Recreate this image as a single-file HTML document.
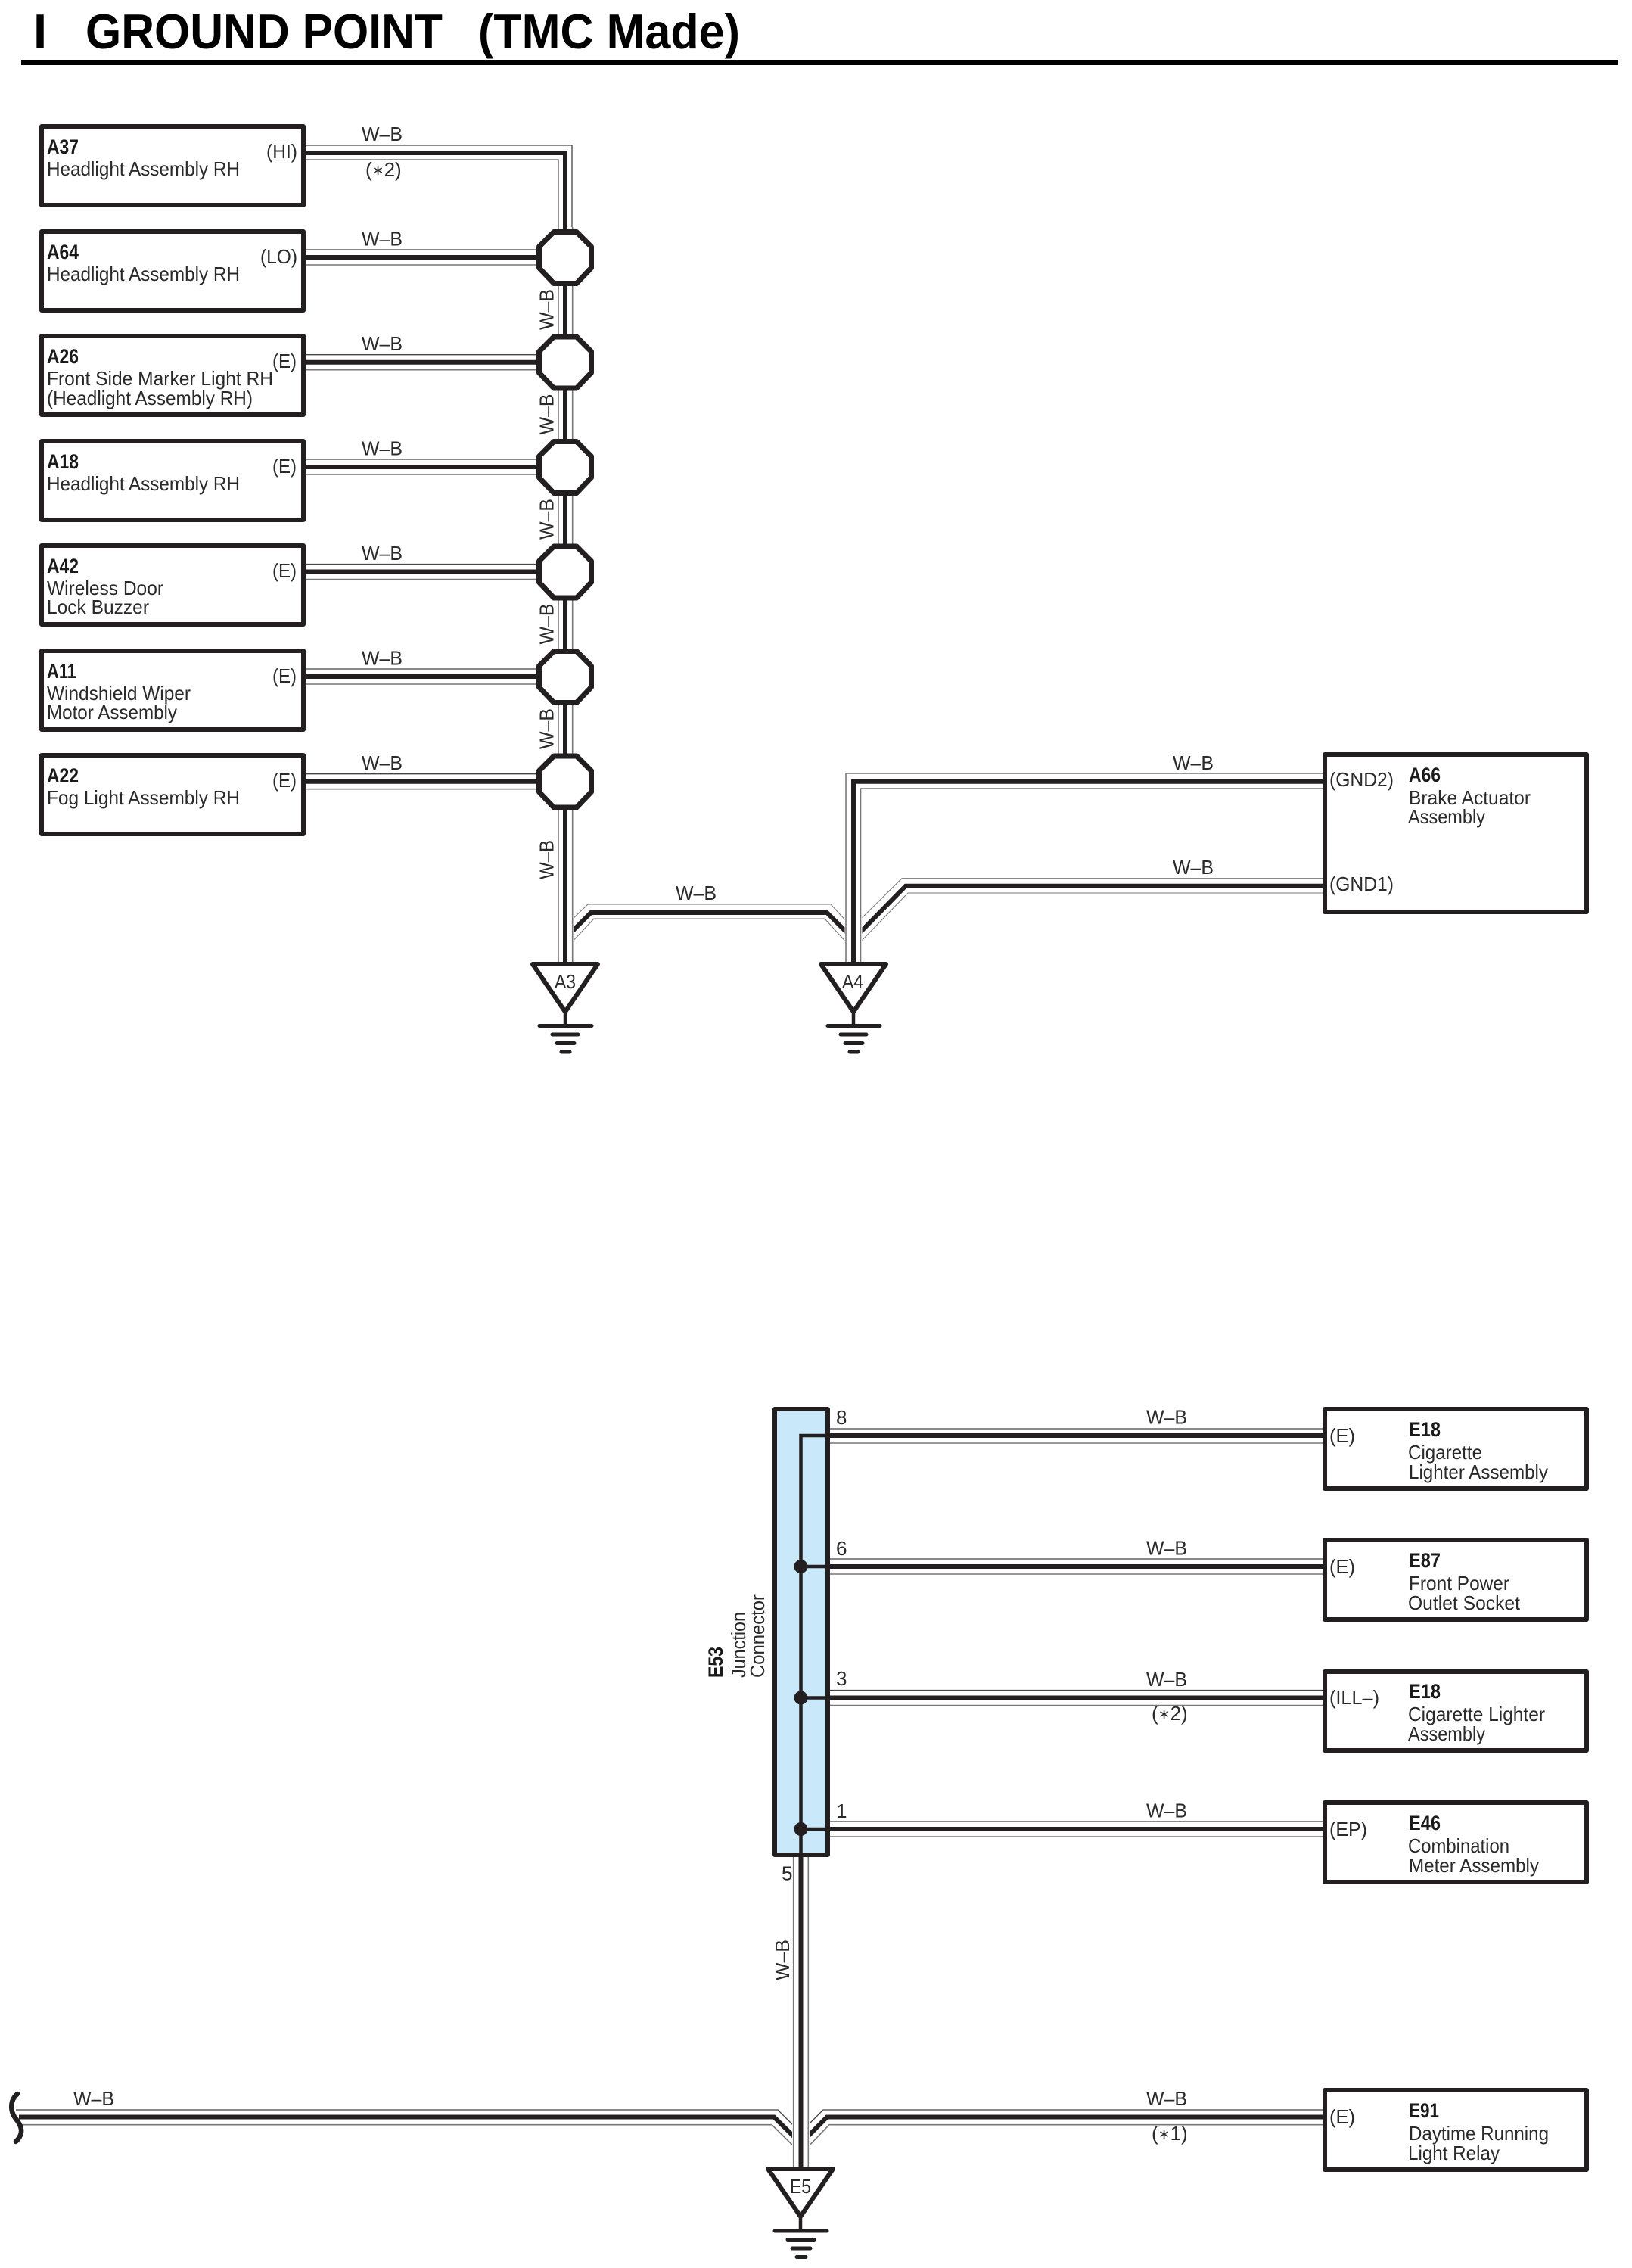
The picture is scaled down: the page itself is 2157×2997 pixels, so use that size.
<!DOCTYPE html>
<html lang="en"><head><meta charset="utf-8"><title>Ground Point</title>
<style>
html,body{margin:0;padding:0;background:#fff}
svg{display:block}
text{font-family:"Liberation Sans",Arial,sans-serif;font-size:26px;fill:#2a2a2a}
.b{font-weight:bold;fill:#1a1a1a;font-size:27px}
.t{font-weight:bold;font-size:65px;fill:#000}
.box{fill:#fff;stroke:#231f20;stroke-width:6;stroke-linejoin:round}
.k{fill:none;stroke:#231f20;stroke-width:6}
.g1{fill:none;stroke:#444;stroke-width:1.3}
.g2{fill:none;stroke:#777;stroke-width:1.6}
.gd{fill:none;stroke:#777;stroke-width:1.1}
.oc{fill:#fff;stroke:#231f20;stroke-width:7;stroke-linejoin:round}
.tri{fill:#fff;stroke:#231f20;stroke-width:6;stroke-linejoin:round}
.gb{stroke:#231f20;stroke-linecap:round;fill:none}
.s{font-size:19px}
</style></head><body>
<svg xmlns="http://www.w3.org/2000/svg" width="2157" height="2997" viewBox="0 0 2157 2997">
<rect width="2157" height="2997" fill="#fff"/>

<!-- Title -->
<text class="t" x="44" y="64">I</text>
<text class="t" x="113" y="64" textLength="472" lengthAdjust="spacingAndGlyphs">GROUND POINT</text>
<text class="t" x="632" y="64" textLength="346" lengthAdjust="spacingAndGlyphs">(TMC Made)</text>
<rect x="28" y="79" width="2111" height="7" fill="#000"/>

<!-- Left horizontal wires -->
<path class="g1" d="M404 192H756V300"/><path class="g2" d="M404 211H738V300"/><path class="k" d="M404 202H747V300"/>
<path class="g1" d="M404 330H720M404 468.7H720M404 607H720M404 745.5H720M404 884H720M404 1022.7H720"/>
<path class="g2" d="M404 350H720M404 488.7H720M404 627H720M404 765.5H720M404 904H720M404 1042.7H720"/>
<path class="k" d="M404 340H720M404 478.7H720M404 617H720M404 755.5H720M404 894H720M404 1032.7H720"/>

<!-- A3–A4 link and GND1 diagonals -->
<path class="gd" d="M752 1219L777 1195H1098L1122 1221"/>
<path class="gd" d="M752 1249L785 1214H1090L1122 1249"/>
<path class="k" d="M752 1235L781 1206H1093L1122 1235"/>
<path class="gd" d="M1134 1218L1192 1160.7H1748"/>
<path class="gd" d="M1134 1248L1200 1180H1748"/>
<path class="k" d="M1132 1237L1197 1170.7H1748"/>
<rect x="735" y="1190" width="23" height="62" fill="#fff"/>
<rect x="1116.5" y="1190" width="23" height="62" fill="#fff"/>

<!-- Vertical bus A3 -->
<path class="g2" d="M738 300V1272"/><path class="g2" d="M756.7 300V1272"/><path class="k" d="M747 300V1272"/>
<!-- A4 verticals / GND2 -->
<path class="g2" d="M1118 1272V1022H1748"/><path class="g2" d="M1137.5 1272V1042H1748"/><path class="k" d="M1128 1272V1032.7H1748"/>

<!-- Octagons -->
<g id="octs">
<polygon class="oc" points="732,306.5 762,306.5 781.5,326 781.5,354 762,374.5 732,374.5 712.5,354 712.5,326"/>
<polygon class="oc" points="732,445 762,445 781.5,464.5 781.5,492.5 762,513 732,513 712.5,492.5 712.5,464.5"/>
<polygon class="oc" points="732,583.5 762,583.5 781.5,603 781.5,631 762,651.5 732,651.5 712.5,631 712.5,603"/>
<polygon class="oc" points="732,722 762,722 781.5,741.5 781.5,769.5 762,790 732,790 712.5,769.5 712.5,741.5"/>
<polygon class="oc" points="732,860.5 762,860.5 781.5,880 781.5,908 762,928.5 732,928.5 712.5,908 712.5,880"/>
<polygon class="oc" points="732,999 762,999 781.5,1018.5 781.5,1046.5 762,1067 732,1067 712.5,1046.5 712.5,1018.5"/>
</g>

<!-- Left boxes -->
<rect class="box" x="55" y="167" width="346" height="104"/>
<rect class="box" x="55" y="306" width="346" height="104"/>
<rect class="box" x="55" y="444" width="346" height="104"/>
<rect class="box" x="55" y="583" width="346" height="104"/>
<rect class="box" x="55" y="721" width="346" height="104"/>
<rect class="box" x="55" y="860" width="346" height="104"/>
<rect class="box" x="55" y="998" width="346" height="104"/>

<text class="b" x="62" y="203" textLength="42" lengthAdjust="spacingAndGlyphs">A37</text>
<text x="62" y="232" textLength="255" lengthAdjust="spacingAndGlyphs">Headlight Assembly RH</text>
<text x="352" y="209" textLength="41" lengthAdjust="spacingAndGlyphs">(HI)</text>
<text class="b" x="62" y="342" textLength="42" lengthAdjust="spacingAndGlyphs">A64</text>
<text x="62" y="371" textLength="255" lengthAdjust="spacingAndGlyphs">Headlight Assembly RH</text>
<text x="344" y="348" textLength="49" lengthAdjust="spacingAndGlyphs">(LO)</text>
<text class="b" x="62" y="480" textLength="42" lengthAdjust="spacingAndGlyphs">A26</text>
<text x="62" y="509" textLength="299" lengthAdjust="spacingAndGlyphs">Front Side Marker Light RH</text>
<text x="62" y="535" textLength="272" lengthAdjust="spacingAndGlyphs">(Headlight Assembly RH)</text>
<text x="360" y="486" textLength="32" lengthAdjust="spacingAndGlyphs">(E)</text>
<text class="b" x="62" y="619" textLength="42" lengthAdjust="spacingAndGlyphs">A18</text>
<text x="62" y="648" textLength="255" lengthAdjust="spacingAndGlyphs">Headlight Assembly RH</text>
<text x="360" y="625" textLength="32" lengthAdjust="spacingAndGlyphs">(E)</text>
<text class="b" x="62" y="757" textLength="42" lengthAdjust="spacingAndGlyphs">A42</text>
<text x="62" y="786" textLength="154" lengthAdjust="spacingAndGlyphs">Wireless Door</text>
<text x="62" y="811" textLength="135" lengthAdjust="spacingAndGlyphs">Lock Buzzer</text>
<text x="360" y="763" textLength="32" lengthAdjust="spacingAndGlyphs">(E)</text>
<text class="b" x="62" y="896" textLength="39" lengthAdjust="spacingAndGlyphs">A11</text>
<text x="62" y="925" textLength="190" lengthAdjust="spacingAndGlyphs">Windshield Wiper</text>
<text x="62" y="950" textLength="172" lengthAdjust="spacingAndGlyphs">Motor Assembly</text>
<text x="360" y="902" textLength="32" lengthAdjust="spacingAndGlyphs">(E)</text>
<text class="b" x="62" y="1034" textLength="42" lengthAdjust="spacingAndGlyphs">A22</text>
<text x="62" y="1063" textLength="255" lengthAdjust="spacingAndGlyphs">Fog Light Assembly RH</text>
<text x="360" y="1040" textLength="32" lengthAdjust="spacingAndGlyphs">(E)</text>

<!-- W–B labels left -->
<text x="478" y="186" textLength="54" lengthAdjust="spacingAndGlyphs">W–B</text>
<text x="483" y="233">(<tspan class="s" dy="-2">∗</tspan><tspan dy="2">2)</tspan></text>
<text x="478" y="324.5" textLength="54" lengthAdjust="spacingAndGlyphs">W–B</text>
<text x="478" y="463" textLength="54" lengthAdjust="spacingAndGlyphs">W–B</text>
<text x="478" y="601.5" textLength="54" lengthAdjust="spacingAndGlyphs">W–B</text>
<text x="478" y="740" textLength="54" lengthAdjust="spacingAndGlyphs">W–B</text>
<text x="478" y="878.5" textLength="54" lengthAdjust="spacingAndGlyphs">W–B</text>
<text x="478" y="1017" textLength="54" lengthAdjust="spacingAndGlyphs">W–B</text>
<!-- rotated labels -->
<text transform="translate(731.5,436) rotate(-90)" textLength="54" lengthAdjust="spacingAndGlyphs">W–B</text>
<text transform="translate(731.5,574.5) rotate(-90)" textLength="54" lengthAdjust="spacingAndGlyphs">W–B</text>
<text transform="translate(731.5,713) rotate(-90)" textLength="54" lengthAdjust="spacingAndGlyphs">W–B</text>
<text transform="translate(731.5,851.5) rotate(-90)" textLength="54" lengthAdjust="spacingAndGlyphs">W–B</text>
<text transform="translate(731.5,990) rotate(-90)" textLength="54" lengthAdjust="spacingAndGlyphs">W–B</text>
<text transform="translate(731.5,1162) rotate(-90)" textLength="52" lengthAdjust="spacingAndGlyphs">W–B</text>
<text x="893" y="1189" textLength="54" lengthAdjust="spacingAndGlyphs">W–B</text>
<text x="1550" y="1017" textLength="54" lengthAdjust="spacingAndGlyphs">W–B</text>
<text x="1550" y="1155" textLength="54" lengthAdjust="spacingAndGlyphs">W–B</text>

<!-- Grounds A3, A4 -->
<polygon class="tri" points="704,1274 790,1274 747,1337"/>
<path class="k" style="stroke-width:4.5" d="M747 1337V1355"/>
<path class="gb" stroke-width="5" d="M713 1355.5H782M730 1367H764M736 1378.5H759M742 1390H753"/>
<text x="733" y="1306" textLength="28" lengthAdjust="spacingAndGlyphs">A3</text>
<polygon class="tri" points="1085,1274 1171,1274 1128,1337"/>
<path class="k" style="stroke-width:4.5" d="M1128 1337V1355"/>
<path class="gb" stroke-width="5" d="M1094 1355.5H1163M1111 1367H1145M1117 1378.5H1140M1123 1390H1134"/>
<text x="1113" y="1306" textLength="28" lengthAdjust="spacingAndGlyphs">A4</text>

<!-- A66 -->
<rect class="box" x="1751" y="997" width="346" height="208"/>
<text x="1757" y="1039" textLength="85" lengthAdjust="spacingAndGlyphs">(GND2)</text>
<text x="1757" y="1177" textLength="85" lengthAdjust="spacingAndGlyphs">(GND1)</text>
<text class="b" x="1862" y="1033" textLength="42" lengthAdjust="spacingAndGlyphs">A66</text>
<text x="1862" y="1063" textLength="161" lengthAdjust="spacingAndGlyphs">Brake Actuator</text>
<text x="1861" y="1088" textLength="102" lengthAdjust="spacingAndGlyphs">Assembly</text>

<!-- E53 wires to the right -->
<path class="g1" d="M1097 1888H1748M1097 2060H1748M1097 2233.5H1748M1097 2407H1748"/>
<path class="g2" d="M1097 1907H1748M1097 2080H1748M1097 2253.5H1748M1097 2427H1748"/>
<path class="k" d="M1097 1897H1748M1097 2070H1748M1097 2243.5H1748M1097 2417H1748"/>

<!-- E53 -->
<rect x="1024" y="1862" width="70" height="589" fill="#c9e8fa" stroke="#231f20" stroke-width="6" stroke-linejoin="round"/>
<path fill="none" stroke="#231f20" stroke-width="4.5" d="M1097 1897H1058.5V2454M1058.5 2070H1097M1058.5 2243.5H1097M1058.5 2417H1097"/>
<circle cx="1058.5" cy="2070" r="9" fill="#231f20"/>
<circle cx="1058.5" cy="2243.5" r="9" fill="#231f20"/>
<circle cx="1058.5" cy="2417" r="9" fill="#231f20"/>
<path fill="none" stroke="#231f20" stroke-width="6" d="M1094 1897H1097M1094 2070H1097M1094 2243.5H1097M1094 2417H1097"/>
<text x="1105" y="1882">8</text>
<text x="1105" y="2055">6</text>
<text x="1105" y="2227">3</text>
<text x="1105" y="2402">1</text>
<text x="1033" y="2484.5">5</text>
<text class="b" transform="translate(955,2217) rotate(-90)" textLength="41" lengthAdjust="spacingAndGlyphs">E53</text>
<text transform="translate(985,2217) rotate(-90)" textLength="87" lengthAdjust="spacingAndGlyphs">Junction</text>
<text transform="translate(1010,2217) rotate(-90)" textLength="110" lengthAdjust="spacingAndGlyphs">Connector</text>

<!-- W–B right -->
<text x="1515" y="1881.5" textLength="54" lengthAdjust="spacingAndGlyphs">W–B</text>
<text x="1515" y="2054.5" textLength="54" lengthAdjust="spacingAndGlyphs">W–B</text>
<text x="1515" y="2228" textLength="54" lengthAdjust="spacingAndGlyphs">W–B</text>
<text x="1522" y="2273">(<tspan class="s" dy="-2">∗</tspan><tspan dy="2">2)</tspan></text>
<text x="1515" y="2401.5" textLength="54" lengthAdjust="spacingAndGlyphs">W–B</text>
<text x="1515" y="2782" textLength="54" lengthAdjust="spacingAndGlyphs">W–B</text>
<text x="1522" y="2828">(<tspan class="s" dy="-2">∗</tspan><tspan dy="2">1)</tspan></text>
<text x="97" y="2782" textLength="54" lengthAdjust="spacingAndGlyphs">W–B</text>

<!-- Bottom horizontal wires -->
<path class="g1" d="M21 2788H1028L1052 2812M1064 2812L1088 2788H1748"/>
<path class="g2" d="M28 2807.7H1020L1052 2839"/>
<path class="g2" d="M1064 2841L1096 2807.7H1748"/>
<path class="k" d="M25 2797.5H1023L1053 2827M1063 2828L1093 2797.5H1748"/>
<rect x="1047" y="2800" width="23" height="45" fill="#fff"/>
<!-- squiggle -->
<path fill="none" stroke="#231f20" stroke-width="6.5" stroke-linecap="round" d="M23 2767C13 2775 13 2790 21 2800C30 2811 31 2820 21 2830"/>

<!-- Vertical 5 -->
<path class="g2" d="M1048.7 2454V2866"/><path class="g2" d="M1068.3 2454V2866"/><path class="k" d="M1058.5 2454V2866"/>
<text transform="translate(1043,2617) rotate(-90)" textLength="54" lengthAdjust="spacingAndGlyphs">W–B</text>

<!-- Ground E5 -->
<polygon class="tri" points="1015,2866 1101,2866 1058,2929"/>
<path class="k" style="stroke-width:4.5" d="M1058 2929V2948"/>
<path class="gb" stroke-width="5" d="M1024 2948H1093M1041 2959.5H1076M1047 2971H1071M1053 2982.5H1065"/>
<text x="1044" y="2898" textLength="28" lengthAdjust="spacingAndGlyphs">E5</text>

<!-- Right boxes -->
<rect class="box" x="1751" y="1862" width="346" height="105"/>
<rect class="box" x="1751" y="2035" width="346" height="105"/>
<rect class="box" x="1751" y="2209" width="346" height="104"/>
<rect class="box" x="1751" y="2382" width="346" height="105"/>
<rect class="box" x="1751" y="2762" width="346" height="105"/>

<text x="1757" y="1906" textLength="34" lengthAdjust="spacingAndGlyphs">(E)</text>
<text class="b" x="1862" y="1898" textLength="42" lengthAdjust="spacingAndGlyphs">E18</text>
<text x="1861" y="1928" textLength="98" lengthAdjust="spacingAndGlyphs">Cigarette</text>
<text x="1862" y="1954" textLength="184" lengthAdjust="spacingAndGlyphs">Lighter Assembly</text>

<text x="1757" y="2079" textLength="34" lengthAdjust="spacingAndGlyphs">(E)</text>
<text class="b" x="1862" y="2071" textLength="42" lengthAdjust="spacingAndGlyphs">E87</text>
<text x="1862" y="2101" textLength="133" lengthAdjust="spacingAndGlyphs">Front Power</text>
<text x="1861" y="2127" textLength="148" lengthAdjust="spacingAndGlyphs">Outlet Socket</text>

<text x="1757" y="2252" textLength="66" lengthAdjust="spacingAndGlyphs">(ILL–)</text>
<text class="b" x="1862" y="2244" textLength="42" lengthAdjust="spacingAndGlyphs">E18</text>
<text x="1861" y="2274" textLength="181" lengthAdjust="spacingAndGlyphs">Cigarette Lighter</text>
<text x="1861" y="2300" textLength="102" lengthAdjust="spacingAndGlyphs">Assembly</text>

<text x="1757" y="2426" textLength="50" lengthAdjust="spacingAndGlyphs">(EP)</text>
<text class="b" x="1862" y="2418" textLength="42" lengthAdjust="spacingAndGlyphs">E46</text>
<text x="1861" y="2448" textLength="134" lengthAdjust="spacingAndGlyphs">Combination</text>
<text x="1862" y="2474" textLength="172" lengthAdjust="spacingAndGlyphs">Meter Assembly</text>

<text x="1757" y="2806" textLength="34" lengthAdjust="spacingAndGlyphs">(E)</text>
<text class="b" x="1862" y="2798" textLength="40" lengthAdjust="spacingAndGlyphs">E91</text>
<text x="1862" y="2828" textLength="185" lengthAdjust="spacingAndGlyphs">Daytime Running</text>
<text x="1861" y="2854" textLength="121" lengthAdjust="spacingAndGlyphs">Light Relay</text>
</svg>
</body></html>
